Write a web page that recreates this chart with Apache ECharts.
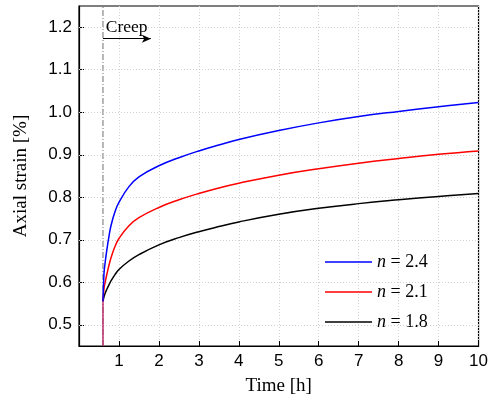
<!DOCTYPE html>
<html>
<head>
<meta charset="utf-8">
<script src="https://cdn.jsdelivr.net/npm/echarts@6/dist/echarts.min.js"></script>
<style>
    html, body { margin: 0; padding: 0; background: #fff; }
    #chart { width: 491px; height: 401px; }
</style>
</head>
<body>
<div id="chart"></div>
<script>
// time [h]
var aTime = [0.6, 0.625, 0.65, 0.7, 0.75, 0.8, 0.9, 1.0, 1.25, 1.5, 2, 2.5, 3, 3.5, 4, 5, 6, 7, 8, 9, 10];
// axial strain [%]
var aN24 = [0.555, 0.620, 0.643, 0.678, 0.708, 0.733, 0.766, 0.788, 0.825, 0.848, 0.874, 0.893, 0.909, 0.923, 0.936, 0.957, 0.975, 0.990, 1.002, 1.013, 1.023];
var aN21 = [0.555, 0.585, 0.598, 0.620, 0.640, 0.657, 0.684, 0.703, 0.733, 0.752, 0.776, 0.794, 0.809, 0.822, 0.833, 0.852, 0.867, 0.880, 0.891, 0.901, 0.909];
var aN18 = [0.555, 0.566, 0.573, 0.584, 0.594, 0.603, 0.618, 0.630, 0.650, 0.665, 0.688, 0.705, 0.719, 0.731, 0.742, 0.760, 0.774, 0.785, 0.794, 0.802, 0.809];
// loading part (vertical jump before creep)
var aLoadTime = [0.6, 0.6];
var aLoadStrain = [0.45, 0.555];
var fCreepStart = 0.6;
var aCreepArrowX = [0.6, 1.8];
var fCreepArrowY = 1.173;
var aYTicks = [0.5, 0.6, 0.7, 0.8, 0.9, 1.0, 1.1, 1.2];

var sSerif = '"Liberation Serif", "Times New Roman", serif';
var sSans = '"Liberation Sans", Arial, sans-serif';

function fnPairs(xs, ys) {
    var a = [];
    for (var i = 0; i < xs.length; i++) a.push([xs[i], ys[i]]);
    return a;
}

var myChart = echarts.init(document.getElementById('chart'), null, { renderer: 'canvas' });

var curveBase = function (name, color, data) {
    return {
        name: name,
        type: 'line',
        data: data,
        symbol: 'none',
        smooth: 0.45,
        lineStyle: { color: color, width: 1.5 },
        itemStyle: { color: color },
        z: 5
    };
};

var option = {
    animation: false,
    backgroundColor: '#fff',
    grid: {
        left: 79, top: 6, right: 9, bottom: 54,
        show: true, borderColor: '#000', borderWidth: 1.2
    },
    xAxis: {
        type: 'value',
        min: 0, max: 10, interval: 1,
        name: 'Time [h]',
        nameLocation: 'middle',
        nameGap: 31,
        nameTextStyle: { fontFamily: sSerif, fontSize: 19, color: '#000' },
        axisLine: { lineStyle: { color: '#000', width: 1.2 } },
        axisTick: { inside: true, length: 5, lineStyle: { color: '#000' } },
        axisLabel: { showMinLabel: false, fontFamily: sSans, fontSize: 17, color: '#000', margin: 7 },
        splitLine: { show: true, lineStyle: { color: '#d0d0d0', type: [1, 2], width: 1 } }
    },
    yAxis: {
        type: 'value',
        min: 0.45, max: 1.25,
        name: 'Axial strain [%]',
        nameLocation: 'middle',
        nameGap: 48,
        nameTextStyle: { fontFamily: sSerif, fontSize: 19, color: '#000' },
        axisLine: { show: true, lineStyle: { color: '#000', width: 1.2 } },
        axisTick: { show: true, inside: true, length: 5, customValues: aYTicks, lineStyle: { color: '#000' } },
        axisLabel: {
            fontFamily: sSans, fontSize: 17, color: '#000', margin: 7,
            customValues: aYTicks,
            formatter: function (v) { return v.toFixed(1); }
        },
        splitLine: { show: false }
    },
    legend: {
        data: ['n = 2.4', 'n = 2.1', 'n = 1.8'],
        orient: 'vertical',
        left: 320, top: 248,
        itemWidth: 47, itemHeight: 14, itemGap: 12,
        icon: 'path://M0,6.2L47,6.2L47,7.8L0,7.8Z',
        formatter: function (name) { return '{i|n}' + name.slice(1); },
        textStyle: {
            fontFamily: sSerif, fontSize: 18, color: '#000',
            rich: { i: { fontFamily: sSerif, fontSize: 18, fontStyle: 'italic', color: '#000' } }
        }
    },
    series: [
        {
            // y grid lines
            type: 'line',
            data: [],
            silent: true,
            markLine: {
                silent: true,
                symbol: 'none',
                label: { show: false },
                lineStyle: { color: '#d0d0d0', type: [1, 2], width: 1 },
                data: aYTicks.map(function (v) { return { yAxis: v }; })
            }
        },
        {
            // creep start line + arrow
            type: 'line',
            data: [[fCreepStart, 0.45], [fCreepStart, 1.25]],
            symbol: 'none',
            silent: true,
            lineStyle: { color: '#707070', width: 1, type: [6, 2, 1, 2] },
            z: 3,
            markLine: {
                silent: true,
                symbol: ['none', 'arrow'],
                symbolSize: [6, 9],
                label: { show: false },
                lineStyle: { color: '#000', width: 1, type: 'solid' },
                data: [[{ coord: [aCreepArrowX[0], fCreepArrowY] }, { coord: [aCreepArrowX[1], fCreepArrowY] }]]
            }
        },
        curveBase('n = 1.8', '#000000', fnPairs(aTime, aN18)),
        curveBase('n = 2.1', '#ff0000', fnPairs(aTime, aN21)),
        curveBase('n = 2.4', '#0000ff', fnPairs(aTime, aN24)),
        {
            type: 'line',
            data: fnPairs(aLoadTime, aLoadStrain),
            symbol: 'none',
            silent: true,
            lineStyle: { color: '#c03070', width: 1.5 },
            z: 6
        }
    ]
};

myChart.setOption(option);

// "Creep" label above the arrow
var aCreepPos = myChart.convertToPixel({ gridIndex: 0 }, [0.67, 1.205]);
myChart.setOption({
    graphic: [{
        type: 'text',
        left: aCreepPos[0],
        top: aCreepPos[1] - 7,
        style: { text: 'Creep', fontFamily: sSerif, fontSize: 17.5, fill: '#000' },
        z: 10
    }]
});
</script>
</body>
</html>
